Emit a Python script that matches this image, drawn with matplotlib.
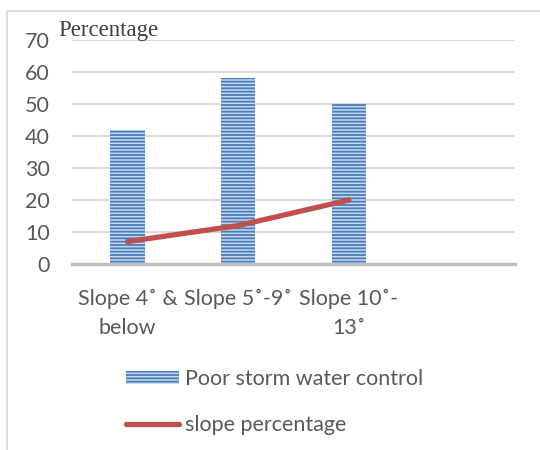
import matplotlib
matplotlib.use("Agg")
import matplotlib.pyplot as plt
from matplotlib.patches import Rectangle

# data
categories = ["Slope 4˚ &\nbelow", "Slope 5˚-9˚", "Slope 10˚-\n13˚", ""]
storm_water = [42, 58, 50]
slope_pct = [7, 12, 20]
y_ticks = [0, 10, 20, 30, 40, 50, 60, 70]

plt.rcParams["font.family"] = ["Lato", "DejaVu Sans"]
plt.rcParams["hatch.linewidth"] = 1.3
plt.rcParams["hatch.color"] = "#4a7ebb"

W, H = 540, 450
fig = plt.figure(figsize=(W / 100, H / 100), dpi=100)
ax = fig.add_axes([72 / W, 1 - 264 / H, (515 - 72) / W, (264 - 40) / H])

grey = "#595959"

# outer chart frame
fig.patches.append(Rectangle((7 / W, -0.1), 1.2, 1 - 11 / H + 0.1,
                             transform=fig.transFigure, fill=False,
                             edgecolor="#d9d9d9", linewidth=1.2))

x = range(len(storm_water))
bars = ax.bar(x, storm_water, width=0.31, color="#c6d7ee",
              edgecolor="#4a7ebb", hatch="-----", linewidth=0,
              label="Poor storm water control", zorder=2)
line, = ax.plot(range(len(slope_pct)), slope_pct, color="#c0504d",
                linewidth=3.8, solid_capstyle="round",
                solid_joinstyle="round", label="slope percentage", zorder=3)

ax.set_xlim(-0.5, 3.5)
ax.set_ylim(0, 70)
ax.set_yticks(y_ticks)
ax.set_xticks(range(len(categories)))
ax.set_xticklabels(categories, linespacing=1.55)
ax.tick_params(axis="both", length=0, labelsize=15.5, colors=grey)
ax.tick_params(axis="y", pad=16)
ax.tick_params(axis="x", pad=18)
for lab in ax.get_xticklabels():
    lab.set_ha("center")

ax.grid(axis="y", color="#d9d9d9", linewidth=1.3, zorder=0)
ax.set_axisbelow(True)
for s in ["top", "right", "left"]:
    ax.spines[s].set_visible(False)
ax.spines["bottom"].set_color("#bfbfbf")
ax.spines["bottom"].set_linewidth(2.5)
ax.spines["bottom"].set_zorder(4)

fig.text(58 / W, 1 - 36 / H, "Percentage", family="Liberation Serif",
         fontsize=16.5, color="#404040", va="baseline", ha="left")

fig.legend(handles=[bars, line], loc="upper left",
           bbox_to_anchor=(126 / W, 1 - 369 / H), frameon=False,
           fontsize=15.5, labelcolor=grey, handlelength=2.45,
           handleheight=0.6, handletextpad=0.28, labelspacing=1.2,
           borderpad=0, borderaxespad=0)

fig.savefig("out.png", dpi=100)
